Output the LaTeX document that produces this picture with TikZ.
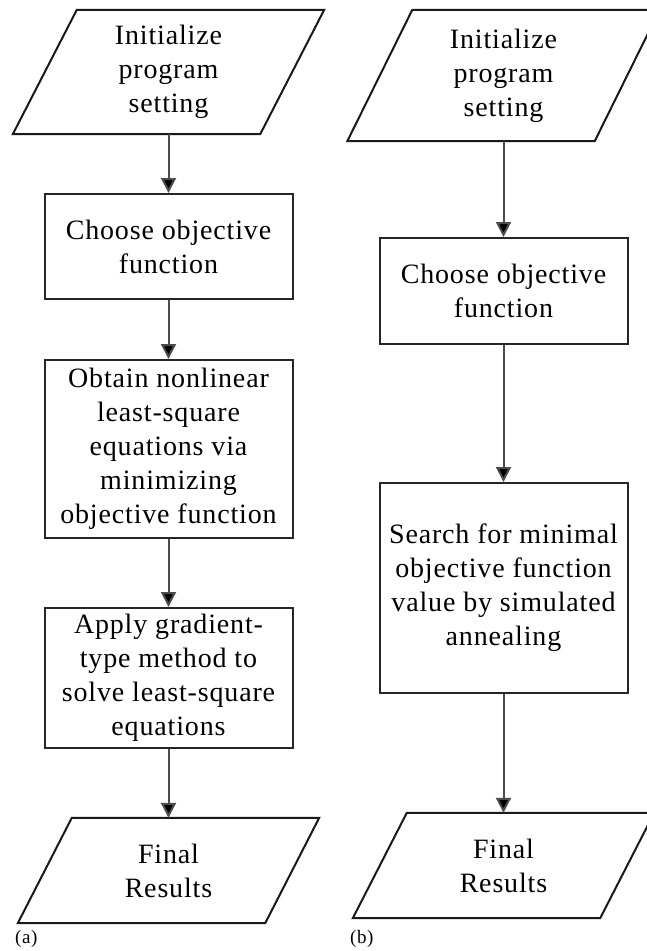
\documentclass[tikz,border=0pt]{standalone}
\usepackage{fontspec}
\setmainfont[LetterSpace=3]{Liberation Serif}
\usetikzlibrary{arrows.meta}
\begin{document}
\begin{tikzpicture}[x=1pt,y=-1pt,
  every node/.style={font=\fontsize{28}{34}\selectfont, align=center, inner sep=0pt},
  procbox/.style={draw=black!85, line width=2pt, rectangle, minimum width=248pt},
  iotext/.style={rectangle, minimum width=247pt},
  ioline/.style={draw=black!90, line width=2pt},
  flow/.style={draw=black!70, line width=2pt, -{Triangle[length=15pt,width=15pt,fill=black]}},
  tag/.style={font=\fontsize{19}{22}\selectfont, anchor=west}
]
\useasboundingbox (0,0) rectangle (646,951);
% (a)
\node[iotext, minimum height=124pt] (a1) at (168.5,72) {\fontsize{28}{32}\selectfont Initialize\\program\\setting};
\draw[ioline] ([xshift=32pt]a1.north west) -- ([xshift=32pt]a1.north east) -- ([xshift=-32pt]a1.south east) -- ([xshift=-32pt]a1.south west) -- cycle;
\node[procbox, minimum height=105pt] (a2) at (168.5,246.5) {Choose objective\\function};
\node[procbox, minimum height=178pt] (a3) at (168.5,449) {Obtain nonlinear\\least-square\\equations via\\minimizing\\objective function};
\node[procbox, minimum height=140pt] (a4) at (168.5,678) {Apply gradient-\\type method to\\solve least-square\\equations};
\node[iotext, minimum height=105pt] (a5) at (168.5,870.5) {Final\\Results};
\draw[ioline] ([xshift=27pt]a5.north west) -- ([xshift=27pt]a5.north east) -- ([xshift=-27pt]a5.south east) -- ([xshift=-27pt]a5.south west) -- cycle;
\node[tag] (la) at (15,939) {(a)};
\draw[flow] (a1) -- (a2);
\draw[flow] (a2) -- (a3);
\draw[flow] (a3) -- (a4);
\draw[flow] (a4) -- (a5);
% (b)
\node[iotext, minimum height=131pt] (b1) at (503.5,75.5) {\fontsize{28}{32}\selectfont Initialize\\program\\setting};
\draw[ioline] ([xshift=32.5pt]b1.north west) -- ([xshift=32.5pt]b1.north east) -- ([xshift=-32.5pt]b1.south east) -- ([xshift=-32.5pt]b1.south west) -- cycle;
\node[procbox, minimum height=106pt] (b2) at (503.5,291) {Choose objective\\function};
\node[procbox, minimum height=210pt] (b3) at (503.5,588) {Search for minimal\\objective function\\value by simulated\\annealing};
\node[iotext, minimum height=105pt] (b4) at (503.5,865.5) {Final\\Results};
\draw[ioline] ([xshift=27pt]b4.north west) -- ([xshift=27pt]b4.north east) -- ([xshift=-27pt]b4.south east) -- ([xshift=-27pt]b4.south west) -- cycle;
\node[tag] (lb) at (350,939) {(b)};
\draw[flow] (b1) -- (b2);
\draw[flow] (b2) -- (b3);
\draw[flow] (b3) -- (b4);
\end{tikzpicture}
\end{document}
